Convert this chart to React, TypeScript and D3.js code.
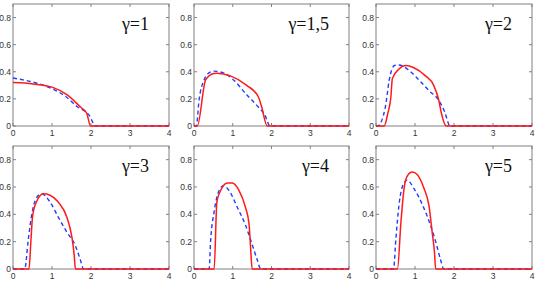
import * as d3 from "d3";

const WIDTH = 540;
const HEIGHT = 282;

const xTicks = [0, 1, 2, 3, 4];
const yTicks = [0, 0.2, 0.4, 0.6, 0.8];
const gammaLabels = ["γ=1", "γ=1,5", "γ=2", "γ=3", "γ=4", "γ=5"];

type Pt = [number, number];

// red solid: model; blue dashed: simulation
const red1: Pt[] = [[0, 0.32], [0.52, 0.31], [1.0, 0.287], [1.39, 0.23], [1.73, 0.14], [1.89, 0.094], [1.99, 0], [4, 0]];
const blue1: Pt[] = [[0, 0.354], [0.26, 0.34], [0.6, 0.317], [1.04, 0.27], [1.34, 0.22], [1.64, 0.144], [1.95, 0.08], [2.12, 0], [4, 0]];

const red2: Pt[] = [[0, 0], [0.085, 0], [0.3, 0.34], [0.51, 0.387], [0.6, 0.39], [0.94, 0.37], [1.36, 0.3], [1.66, 0.216], [1.74, 0.147], [1.89, 0], [4, 0]];
const blue2: Pt[] = [[0, 0], [0.06, 0], [0.13, 0.19], [0.26, 0.34], [0.43, 0.4], [0.51, 0.405], [0.77, 0.39], [1.02, 0.34], [1.36, 0.23], [1.66, 0.14], [1.83, 0.08], [1.96, 0], [4, 0]];

const red3: Pt[] = [[0, 0], [0.21, 0], [0.3, 0.09], [0.38, 0.21], [0.42, 0.35], [0.59, 0.42], [0.76, 0.446], [0.97, 0.43], [1.27, 0.37], [1.48, 0.3], [1.61, 0.19], [1.68, 0.09], [1.8, 0], [4, 0]];
const blue3: Pt[] = [[0, 0], [0.04, 0], [0.24, 0.14], [0.34, 0.34], [0.47, 0.446], [0.59, 0.45], [0.85, 0.41], [1.1, 0.34], [1.36, 0.26], [1.61, 0.19], [1.76, 0.105], [1.9, 0], [4, 0]];

const red4: Pt[] = [[0, 0], [0.41, 0], [0.46, 0.21], [0.5, 0.38], [0.6, 0.49], [0.78, 0.55], [0.95, 0.54], [1.16, 0.49], [1.38, 0.38], [1.51, 0.234], [1.57, 0.1], [1.6, 0], [4, 0]];
const blue4: Pt[] = [[0, 0], [0.3, 0], [0.39, 0.21], [0.47, 0.38], [0.6, 0.52], [0.73, 0.55], [0.95, 0.49], [1.16, 0.38], [1.38, 0.27], [1.6, 0.17], [1.72, 0.074], [1.81, 0], [4, 0]];

const red5: Pt[] = [[0, 0], [0.52, 0], [0.59, 0.49], [0.69, 0.576], [0.86, 0.63], [0.99, 0.63], [1.16, 0.576], [1.33, 0.45], [1.42, 0.33], [1.46, 0.16], [1.5, 0], [4, 0]];
const blue5: Pt[] = [[0, 0], [0.39, 0], [0.43, 0.21], [0.52, 0.42], [0.65, 0.576], [0.76, 0.61], [0.9, 0.576], [1.12, 0.45], [1.33, 0.32], [1.5, 0.18], [1.64, 0.06], [1.72, 0], [4, 0]];

const red6: Pt[] = [[0, 0], [0.55, 0], [0.64, 0.346], [0.72, 0.59], [0.8, 0.68], [0.93, 0.71], [1.06, 0.69], [1.23, 0.59], [1.36, 0.46], [1.44, 0.27], [1.5, 0.12], [1.53, 0], [4, 0]];
const blue6: Pt[] = [[0, 0], [0.45, 0], [0.51, 0.22], [0.59, 0.47], [0.7, 0.62], [0.8, 0.65], [0.97, 0.59], [1.19, 0.47], [1.36, 0.35], [1.53, 0.2], [1.65, 0.074], [1.74, 0], [4, 0]];

const redSeries = [red1, red2, red3, red4, red5, red6];
const blueSeries = [blue1, blue2, blue3, blue4, blue5, blue6];

// panel boxes in pixels
const colLeft = [13, 194, 376];
const colRight = [169, 349, 532];
const rowTop = [4, 146];
const rowBottom = [126, 269];

const TICK = 3;
const AXIS_COLOR = "#808080";
const TICK_FONT = "'Liberation Sans Narrow', 'Liberation Sans', sans-serif";
const TITLE_FONT = "'Liberation Serif', 'DejaVu Serif', serif";

function Panel({ index }: { index: number }) {
  const col = index % 3;
  const row = Math.floor(index / 3);
  const x = d3.scaleLinear().domain([0, 4]).range([colLeft[col], colRight[col]]);
  const y = d3.scaleLinear().domain([0, 0.9]).range([rowBottom[row], rowTop[row]]);
  const line = d3
    .line<Pt>()
    .x((d) => x(d[0]))
    .y((d) => y(d[1]))
    .curve(d3.curveMonotoneX);
  const x0 = colLeft[col];
  const x1 = colRight[col];
  const y0 = rowBottom[row];
  const y1 = rowTop[row];

  return (
    <g>
      <rect x={x0} y={y1} width={x1 - x0} height={y0 - y1} fill="#fff" stroke={AXIS_COLOR} strokeWidth={1} />
      {xTicks.map((t) => (
        <g key={`x${t}`}>
          <line x1={x(t)} x2={x(t)} y1={y0} y2={y0 - TICK} stroke={AXIS_COLOR} />
          <line x1={x(t)} x2={x(t)} y1={y1} y2={y1 + TICK} stroke={AXIS_COLOR} />
          <text x={x(t)} y={y0 + 9.5} fontSize={8.5} textAnchor="middle" fill="#333" style={{ fontFamily: TICK_FONT }}>
            {t}
          </text>
        </g>
      ))}
      {yTicks.map((t) => (
        <g key={`y${t}`}>
          <line x1={x0} x2={x0 + TICK} y1={y(t)} y2={y(t)} stroke={AXIS_COLOR} />
          <line x1={x1} x2={x1 - TICK} y1={y(t)} y2={y(t)} stroke={AXIS_COLOR} />
          <text x={x0 - 2} y={y(t) + 3} fontSize={8.5} textAnchor="end" fill="#333" style={{ fontFamily: TICK_FONT }}>
            {t}
          </text>
        </g>
      ))}
      <path d={line(blueSeries[index]) ?? ""} fill="none" stroke="#1f3cff" strokeWidth={1.4} strokeDasharray="4,3" />
      <path d={line(redSeries[index]) ?? ""} fill="none" stroke="#ff1a1a" strokeWidth={1.5} strokeLinejoin="round" />
      <text x={x1 - 20} y={y1 + 26} fontSize={18} textAnchor="end" fill="#111" style={{ fontFamily: TITLE_FONT }}>
        {gammaLabels[index]}
      </text>
    </g>
  );
}

export default function App() {
  return (
    <div style={{ position: "fixed", left: 0, top: 0, width: WIDTH, height: HEIGHT, background: "#fff" }}>
      <svg width={WIDTH} height={HEIGHT} style={{ display: "block" }}>
        {gammaLabels.map((_, i) => (
          <Panel key={i} index={i} />
        ))}
      </svg>
    </div>
  );
}
